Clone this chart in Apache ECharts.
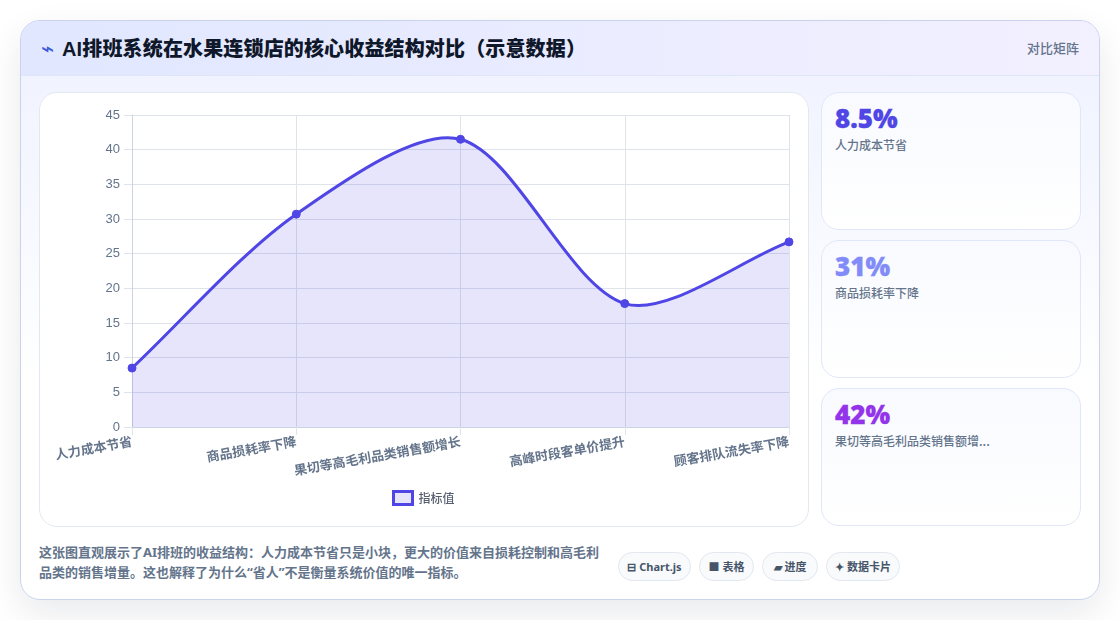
<!DOCTYPE html>
<html lang="zh-CN">
<head>
<meta charset="utf-8">
<title>AI排班系统在水果连锁店的核心收益结构对比</title>
<script src="https://cdn.jsdelivr.net/npm/echarts@6/dist/echarts.min.js"></script>
<style>
  * { box-sizing: border-box; margin: 0; padding: 0; }
  html, body { width: 1120px; height: 620px; overflow: hidden; background: #fff;
    font-family: "Noto Sans CJK SC", "Open Sans", sans-serif; }
  .card { position: absolute; left: 20px; top: 20px; width: 1080px; height: 580px; border-radius: 20px;
    border: 1px solid #c9d3ee; background: linear-gradient(180deg, #eef1ff 0%, #ffffff 62%, #ffffff 100%);
    box-shadow: 0 14px 36px rgba(15, 23, 42, .09); overflow: hidden; }
  .head { position: absolute; left: 0; top: 0; width: 100%; height: 55px;
    background: linear-gradient(90deg, #e0e7ff 0%, #f3f0ff 100%); border-bottom: 1px solid #dfe6f7; }
  .head .bolt { position: absolute; left: 20px; top: 18px; font: 22px/20px "DejaVu Sans"; color: #3b5bdb; }
  .head h1 { position: absolute; left: 41px; top: 14px; font-size: 20px; line-height: 28px; font-weight: 900; color: #0f172a;
    letter-spacing: .15px; font-family: "Liberation Sans", "Noto Sans CJK SC", sans-serif; white-space: nowrap; }
  .head .tag { position: absolute; right: 20px; top: 17px; font-size: 13px; line-height: 20px; font-weight: 500; color: #64748b; }
  #chart-panel { position: absolute; left: 18px; top: 71px; width: 770px; height: 435px; border-radius: 18px;
    border: 1px solid #e2e8f0; background: #fff; }
  #chart { position: absolute; left: -1px; top: -1px; width: 770px; height: 435px; }
  .stat { position: absolute; left: 800px; width: 260px; height: 138px; border-radius: 18px; border: 1px solid #dfe7f8;
    background: linear-gradient(180deg, #f8faff 0%, #ffffff 100%); padding: 8px 13px; }
  .stat b { display: block; font: 800 26px/34px "Open Sans", sans-serif; -webkit-text-stroke: .3px currentColor; }
  .stat span { display: block; margin-top: 1px; font-size: 12px; line-height: 18px; font-weight: 500; color: #64748b; }
  .note { position: absolute; left: 18px; top: 521px; width: 565px; font-size: 13px; line-height: 20px; font-weight: 700; color: #64748b;
    font-family: "Noto Sans", "Noto Sans CJK SC", sans-serif; }
  .pill { position: absolute; top: 531px; height: 29px; border-radius: 15px; border: 1px solid #e2e8f0; background: #f8fafc;
    font-family: "Noto Sans", "Noto Sans CJK SC", sans-serif;
    font-size: 11px; line-height: 27px; font-weight: 700; color: #475569; text-align: center; white-space: nowrap; }
</style>
</head>
<body>
<div class="card">
  <div class="head">
    <span class="bolt">⌁</span>
    <h1>AI排班系统在水果连锁店的核心收益结构对比（示意数据）</h1>
    <span class="tag">对比矩阵</span>
  </div>
  <div id="chart-panel"><div id="chart"></div></div>
  <div class="stat" style="top:71px"><b style="color:#4f46e5">8.5%</b><span>人力成本节省</span></div>
  <div class="stat" style="top:219px"><b style="color:#818cf8">31%</b><span>商品损耗率下降</span></div>
  <div class="stat" style="top:367px"><b style="color:#9333ea">42%</b><span>果切等高毛利品类销售额增...</span></div>
  <p class="note">这张图直观展示了AI排班的收益结构：人力成本节省只是小块，更大的价值来自损耗控制和高毛利品类的销售增量。这也解释了为什么“省人”不是衡量系统价值的唯一指标。</p>
  <span class="pill" style="left:597px;width:73px">⊟ Chart.js</span>
  <span class="pill" style="left:678px;width:55px">■ 表格</span>
  <span class="pill" style="left:741px;width:56px">▰ 进度</span>
  <span class="pill" style="left:805px;width:74px">✦ 数据卡片</span>
</div>
<script>
const categories = ['人力成本节省', '商品损耗率下降', '果切等高毛利品类销售额增长', '高峰时段客单价提升', '顾客排队流失率下降'];
const seriesName = '指标值';
const values = [8.5, 30.7, 41.5, 17.8, 26.7];
const yTicks = { min: 0, max: 45, interval: 5 };
const tension = 0.3;

const chart = echarts.init(document.getElementById('chart'), null, { renderer: 'canvas' });

// Spline whose control points may overshoot their neighbours, unlike the built-in
// line smoothing which is clamped at local extrema.
function splinePath(points) {
  const ctrl = points.map((p, i) => {
    const prev = points[i - 1] || p, next = points[i + 1] || p;
    const d01 = Math.hypot(p[0] - prev[0], p[1] - prev[1]);
    const d12 = Math.hypot(next[0] - p[0], next[1] - p[1]);
    const total = d01 + d12 || 1;
    const fa = tension * d01 / total, fb = tension * d12 / total;
    return {
      before: [p[0] - fa * (next[0] - prev[0]), p[1] - fa * (next[1] - prev[1])],
      after: [p[0] + fb * (next[0] - prev[0]), p[1] + fb * (next[1] - prev[1])]
    };
  });
  let d = 'M' + points[0].join(' ');
  for (let i = 1; i < points.length; i++) {
    d += 'C' + ctrl[i - 1].after.join(' ') + ' ' + ctrl[i].before.join(' ') + ' ' + points[i].join(' ');
  }
  return d;
}

function renderCurve(params, api) {
  if (params.dataIndex !== 0) return null;
  const points = values.map((v, i) => api.coord([i, v]));
  const base = api.coord([0, 0])[1];
  const line = splinePath(points);
  const last = points[points.length - 1];
  return {
    type: 'group',
    children: [
      { type: 'path', shape: { pathData: line + 'L' + last[0] + ' ' + base + 'L' + points[0][0] + ' ' + base + 'Z' },
        style: { fill: 'rgba(79,70,229,0.14)', stroke: null } },
      { type: 'path', shape: { pathData: line },
        style: { fill: null, stroke: '#4f46e5', lineWidth: 3 } }
    ]
  };
}

chart.setOption({
  animation: false,
  grid: { left: 93, right: 20, top: 23, bottom: 100, containLabel: false },
  legend: {
    show: true, left: 348, top: 393, itemWidth: 19, itemHeight: 13, itemGap: 6,
    data: [{ name: seriesName, icon: 'rect',
      itemStyle: { color: 'rgba(79,70,229,0.14)', borderColor: '#4f46e5', borderWidth: 3 } }],
    textStyle: { color: '#565f70', fontSize: 12, fontWeight: 500, fontFamily: '"Noto Sans CJK SC"', padding: [0, 0, 0, 1] }
  },
  xAxis: {
    type: 'category', data: categories, boundaryGap: false,
    axisLine: { show: true, lineStyle: { color: '#cbd5e1', width: 1 } },
    axisTick: { show: true, length: 8, lineStyle: { color: '#dfe4ec' } },
    splitLine: { show: true, lineStyle: { color: '#dfe4ec' } },
    axisLabel: { rotate: 10, interval: 0, margin: 14, color: '#64748b', fontSize: 13, fontWeight: 700,
      fontFamily: '"Noto Sans CJK SC"' }
  },
  yAxis: {
    type: 'value', min: yTicks.min, max: yTicks.max, interval: yTicks.interval,
    axisLine: { show: true, lineStyle: { color: '#cbd5e1', width: 1 } },
    axisTick: { show: true, length: 8, lineStyle: { color: '#dfe4ec' } },
    splitLine: { show: true, lineStyle: { color: '#dfe4ec' } },
    axisLabel: { margin: 12, color: '#64748b', fontSize: 13, fontFamily: '"Liberation Sans"' }
  },
  series: [
    { type: 'custom', name: seriesName, data: values.map((v, i) => [i, v]), renderItem: renderCurve, z: 2, clip: false,
      encode: { x: 0, y: 1 } },
    { type: 'line', name: seriesName + ' ', data: values, smooth: false, z: 3, clip: false,
      lineStyle: { width: 0, opacity: 0 }, symbol: 'circle', symbolSize: 8,
      itemStyle: { color: '#4f46e5', borderColor: '#4f46e5' }, showSymbol: true }
  ]
});
</script>
</body>
</html>
